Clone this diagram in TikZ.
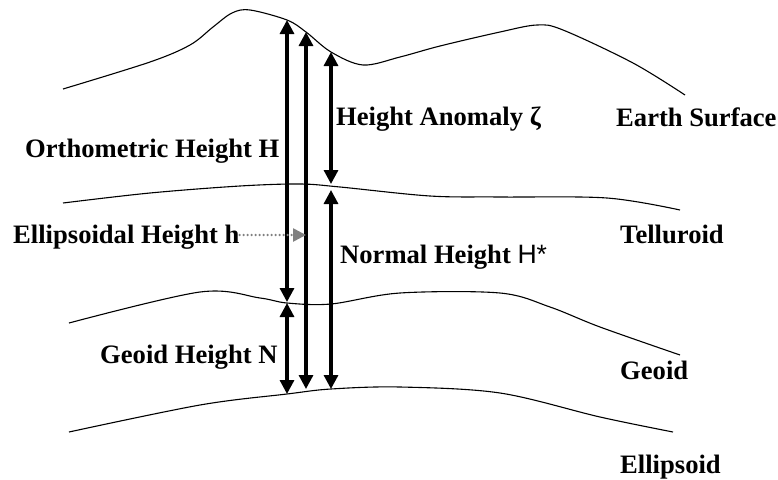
\documentclass[tikz,border=0pt]{standalone}
\usepackage{fontspec}
\setmainfont{Liberation Serif}
\newfontfamily\arialfont{Liberation Sans}
\usetikzlibrary{arrows.meta}
\begin{document}
\begin{tikzpicture}[x=1pt,y=-1pt,
  surf/.style={line width=1.1pt, black},
  harrow/.style={line width=3.2pt, {Triangle[length=14pt,width=14pt]}-{Triangle[length=14pt,width=14pt]}},
  lbl/.style={anchor=base west, inner sep=0pt, font=\fontsize{26.6}{30}\selectfont\bfseries}]
\useasboundingbox (0,0) rectangle (778,479);
% Earth surface
\draw[surf] plot[smooth, tension=0.55] coordinates {(63,89) (150,62) (190,45) (213,27) (232,13) (250,10) (287,20) (306,32) (331,52) (363,65) (400,57) (440,46) (500,32) (537,25) (563,30) (633,63) (685,95)};
% Telluroid
\draw[surf] plot[smooth, tension=0.55] coordinates {(63,203) (150,193) (240,186) (300,184) (340,187) (430,196) (500,197) (607,198) (680,210)};
% Geoid
\draw[surf] plot[smooth, tension=0.55] coordinates {(69,323) (200,292) (260,298) (287,303) (331,304) (400,293) (500,293) (550,307) (600,327) (680,355)};
% Ellipsoid
\draw[surf] plot[smooth, tension=0.55] coordinates {(69,432) (200,405) (287,394) (331,389) (400,387) (500,393) (600,417) (673,432)};
% endpoints
\coordinate (oT) at (287,20);
\coordinate (oB) at (287,302);
\coordinate (eT) at (306,32);
\coordinate (eB) at (306,389);
\coordinate (aT) at (331,52);
\coordinate (aB) at (331,184);
\coordinate (nT) at (331,190);
\coordinate (nB) at (331,389);
\coordinate (gT) at (287,303);
\coordinate (gB) at (287,394);
\draw[harrow] (oT) -- (oB);
\draw[harrow] (eT) -- (eB);
\draw[harrow] (aT) -- (aB);
\draw[harrow] (nT) -- (nB);
\draw[harrow] (gT) -- (gB);
% labels
\node[lbl] (ortho) at (25,157) {Orthometric Height H};
\node[lbl] (anom) at (336,125) {Height Anomaly \char"03B6};
\node[lbl] (earth) at (616,126) {Earth Surface};
\node[lbl] (ellh) at (13,243) {Ellipsoidal Height h};
\node[lbl] (norm) at (340,263) {Normal Height {\arialfont\mdseries H*}};
\node[lbl] (tell) at (620,243) {Telluroid};
\node[lbl] (geoh) at (100,363) {Geoid Height N};
\node[lbl] (geoid) at (620,379) {Geoid};
\node[lbl] (ellip) at (620,473) {Ellipsoid};
\coordinate (dotE) at (306,235);
\draw[gray, line width=2.6pt, line cap=round, dash pattern=on 0pt off 4pt, -{Triangle[length=13pt,width=13pt]}] (ellh.east |- dotE) -- (dotE);
\end{tikzpicture}
\end{document}
